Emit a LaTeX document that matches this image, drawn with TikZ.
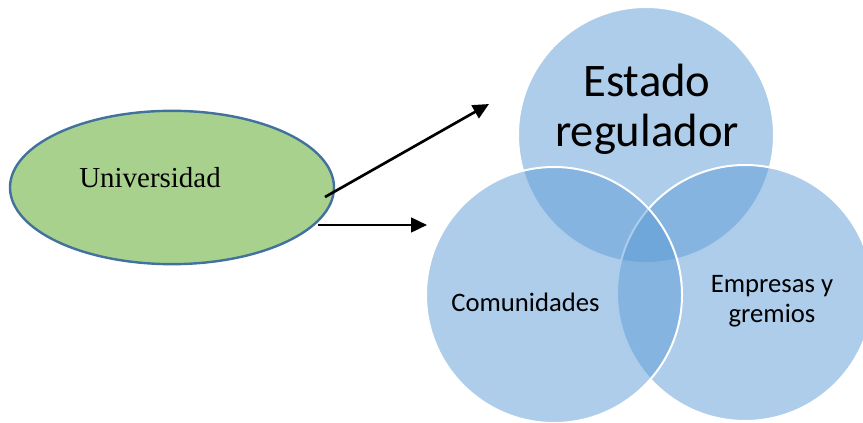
\documentclass[tikz,border=0pt]{standalone}
\usepackage{fontspec}
\setmainfont{Liberation Serif}
\newfontfamily\calibri{Carlito}
\usetikzlibrary{shapes.geometric,arrows.meta}
\definecolor{vennblue}{HTML}{5B9BD5}
\definecolor{ellfill}{HTML}{A9D18E}
\definecolor{ellline}{HTML}{41719C}
\begin{document}
\begin{tikzpicture}[x=0.75pt,y=-0.75pt,
  venn/.style={circle,minimum size=192pt,inner sep=0pt,fill=vennblue,fill opacity=0.5,draw=white,draw opacity=1,line width=1.5pt},
  uni/.style={ellipse,minimum width=243pt,minimum height=115pt,inner sep=0pt,fill=ellfill,draw=ellline,line width=1.8pt},
  conn/.style={line width=2pt,-{Triangle[length=12pt,width=11pt]}},
  big/.style={font=\calibri\fontsize{35}{37.5}\selectfont,anchor=base,inner sep=0pt},
  small/.style={font=\calibri\fontsize{20}{22.5}\selectfont,anchor=base,inner sep=0pt}]
\useasboundingbox (0,0) rectangle (863,423);
\node[uni] (univ) at (172,187.5) {};
\node[font=\fontsize{21.7}{24}\selectfont,anchor=base,inner sep=0pt] (univtxt) at (150,187.3) {Universidad};
\node[venn] (top) at (646,135) {};
\node[venn] (right) at (745,293) {};
\node[venn] (left) at (554,295) {};
\node[big] (estado) at (647,97) {Estado};
\node[big] (regulador) at (647,147) {regulador};
\node[small] (comun) at (525.5,311.7) {Comunidades};
\node[small] (empresas) at (772,293) {Empresas y};
\node[small] (gremios) at (772,323) {gremios};
\coordinate (s1) at (325,197);
\coordinate (t1) at (489,104);
\coordinate (s2) at (318,225);
\coordinate (t2) at (427,225);
\draw[conn] (s1) -- (t1);
\draw[conn] (s2) -- (t2);
\end{tikzpicture}
\end{document}
